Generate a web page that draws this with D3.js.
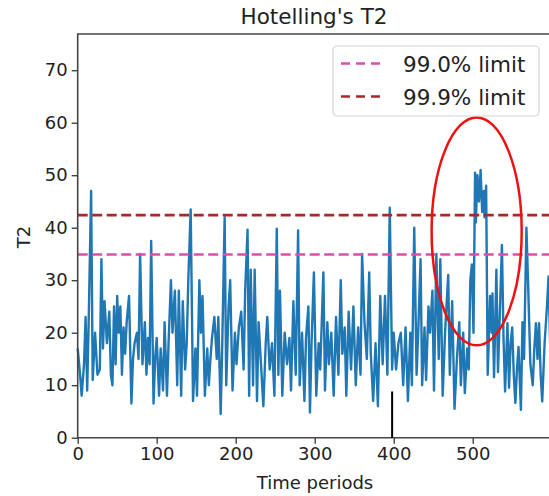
<!DOCTYPE html>
<head>
    <meta charset="utf-8">
    <title>Hotelling's T2</title>
    <script src="https://d3js.org/d3.v7.min.js"></script>
</head>

<body>
<svg id="chart" width="549" height="496"></svg>
</body>

<script>

    // T2 statistic: time period / value
    var periods = [0,3,5,8,10,12,14,17,19,22,25,28,30,32,34,37,40,42,44,46,48,50,52,54,56,58,60,62,65,68,70,72,75,77,79,82,85,87,89,91,93,96,98,
        100,103,105,108,110,113,115,118,120,123,126,128,131,133,136,138,140,143,146,149,151,154,156,158,161,164,166,168,170,173,176,178,181,183,186,188,191,193,196,199,
        201,204,207,210,212,215,217,219,222,224,227,229,232,235,238,240,243,246,249,252,254,256,259,262,265,268,270,273,276,279,281,284,287,289,292,294,296,299,
        302,305,307,311,313,316,318,321,324,327,330,333,335,338,340,343,346,349,352,355,358,360,363,366,369,371,374,377,380,383,386,389,392,395,398,
        400,403,406,409,412,415,418,421,423,426,429,431,434,436,439,441,444,446,449,451,454,457,459,462,465,469,471,474,477,480,483,485,488,490,493,495,497,499,
        501,503,504,506,508,510,512,514,515,517,519,522,524,525,527,530,532,534,537,539,541,544,546,548,550,552,554,556,558,561,563,565,568,570,573,576,578,
        580,582,584,586,588,591,594,596,598,600]
    var t2 = [17,12,8,14,23,9,23,47,11,20,12,13,34,17,26,18,24,12,10,25,14,27,20,25,12,21,16,22,27,6.5,15,18,20,15,35,14,22,12,19,14,37.5,6.5,15,
        19,8,17,9,22,8,18,30,20,28,10,28,8,26,13,18,30,43.5,7,17,8,30,20,27,8,17,10,15,19,23,15,23,4.5,18,42,10,25,30,9,20,
        14,21,24,13,28,39.6,8,32,10,32,7,22,14,6,18,23,13,18,8,39.8,12,28,8,20,14,19,9,26,12,39.5,10,20,7,19,25,4.8,18,31.5,
        8,18,13,31.5,9,22,14,20,8,23,12,30,16,21,8,24,13,25,10,21,12,35,22,15,31.5,16,7,18,6,27,14,27,12,43.8,13,
        20,13,18,20,10,21,7,20,10,40,12,20,34,10,21,11,25,20,28,9,35,15,34,8,20,31,12,26,5.5,15,22,10,20,8.5,17,13,30,33,
        20,50.5,41,50,45,51,43,47,42,48,12,27,20,27.5,11.5,32,12.5,22,36.7,19,8.8,21.8,9.5,18,21,12,6.6,13,17.3,5.3,22,15,40,30,14,10,17,
        21.8,15,21.8,12,6.9,18,25,30.7,18,24]

    var limitNames = ["99.0% limit", "99.9% limit"]
    var limitValues = [34.9, 42.4]
    var limitColors = ["#d94fae", "#a82828"]

    var xTicks = [0, 100, 200, 300, 400, 500]
    var yTicks = [0, 10, 20, 30, 40, 50, 60, 70]

    // annotations: short black marker and the red ellipse (data units)
    var marker = {t: 398, top: 8.8}
    var ring = {t: 505, v: 39.3, dt: 57, dv: 21.7}

    var plotLeft = 77.7, plotRight = 551.7, plotTop = 34, plotBottom = 437.7

    var x = d3.scaleLinear().domain([0, 600]).range([plotLeft, plotRight])
    var y = d3.scaleLinear().domain([0, 76.9]).range([plotBottom, plotTop])

    var svg = d3.select("#chart")
    var font = "DejaVu Sans, sans-serif"

    svg.append("rect").attr("width", 549).attr("height", 496).attr("fill", "white")

    var line = d3.line()
        .x(function(d, i) { return x(periods[i]) })
        .y(function(d) { return y(d) })

    svg.append("path")
        .datum(t2)
        .attr("d", line)
        .attr("fill", "none")
        .attr("stroke", "#1f77b4")
        .attr("stroke-width", 2.4)
        .attr("stroke-linejoin", "round")

    svg.selectAll(".limit")
        .data(limitValues)
        .enter().append("line")
        .attr("class", "limit")
        .attr("x1", plotLeft).attr("x2", plotRight)
        .attr("y1", function(d) { return y(d) })
        .attr("y2", function(d) { return y(d) })
        .attr("stroke", function(d, i) { return limitColors[i] })
        .attr("stroke-width", 2.6)
        .attr("stroke-dasharray", "10,4.5")

    // axes
    var xAxis = d3.axisBottom(x).tickValues(xTicks).tickSize(6).tickPadding(4)
    var yAxis = d3.axisLeft(y).tickValues(yTicks).tickSize(6).tickPadding(4)

    var gx = svg.append("g").attr("transform", "translate(0," + plotBottom + ")").call(xAxis)
    var gy = svg.append("g").attr("transform", "translate(" + plotLeft + ",0)").call(yAxis)

    gx.select(".domain").remove()
    gy.select(".domain").remove()
    svg.selectAll(".tick line").attr("stroke", "#333").attr("stroke-width", 1.3)
    svg.selectAll(".tick text").attr("fill", "#222").style("font-family", font).style("font-size", "18px")

    // spines
    svg.append("path")
        .attr("d", "M" + plotRight + "," + plotTop + "H" + plotLeft + "V" + plotBottom + "H" + plotRight)
        .attr("fill", "none")
        .attr("stroke", "#444")
        .attr("stroke-width", 1.6)

    svg.append("line")
        .attr("x1", x(marker.t)).attr("x2", x(marker.t))
        .attr("y1", y(0)).attr("y2", y(marker.top))
        .attr("stroke", "black")
        .attr("stroke-width", 2)

    svg.append("ellipse")
        .attr("cx", x(ring.t)).attr("cy", y(ring.v))
        .attr("rx", x(ring.t + ring.dt) - x(ring.t))
        .attr("ry", y(ring.v - ring.dv) - y(ring.v))
        .attr("fill", "none")
        .attr("stroke", "#ee1111")
        .attr("stroke-width", 2.5)

    // titles
    svg.append("text").attr("x", 314).attr("y", 24).attr("text-anchor", "middle")
        .text("Hotelling's T2").style("font-family", font).style("font-size", "21.5px").attr("fill", "#222")
    svg.append("text").attr("x", 315).attr("y", 489).attr("text-anchor", "middle")
        .text("Time periods").style("font-family", font).style("font-size", "18px").attr("fill", "#222")
    svg.append("text").attr("transform", "translate(30,237) rotate(-90)").attr("text-anchor", "middle")
        .text("T2").style("font-family", font).style("font-size", "18px").attr("fill", "#222")

    // legend
    var legend = svg.append("g").attr("transform", "translate(333,46)")
    legend.append("rect")
        .attr("width", 206).attr("height", 70).attr("rx", 4)
        .attr("fill", "white").attr("fill-opacity", 0.85)
        .attr("stroke", "#d4d4d4").attr("stroke-width", 1.2)

    var rows = legend.selectAll(".row")
        .data(limitNames)
        .enter().append("g")
        .attr("class", "row")
        .attr("transform", function(d, i) { return "translate(0," + (17.5 + i * 33) + ")" })

    rows.append("line")
        .attr("x1", 8).attr("x2", 48)
        .attr("stroke", function(d, i) { return limitColors[i] })
        .attr("stroke-width", 2.6)
        .attr("stroke-dasharray", "9,6")

    rows.append("text")
        .attr("x", 70).attr("y", 8)
        .text(function(d) { return d })
        .style("font-family", font).style("font-size", "21.5px").attr("fill", "#222")

</script>

<style>
    html, body {
        margin: 0;
    }
    svg { display: block; }
</style>

</html>
